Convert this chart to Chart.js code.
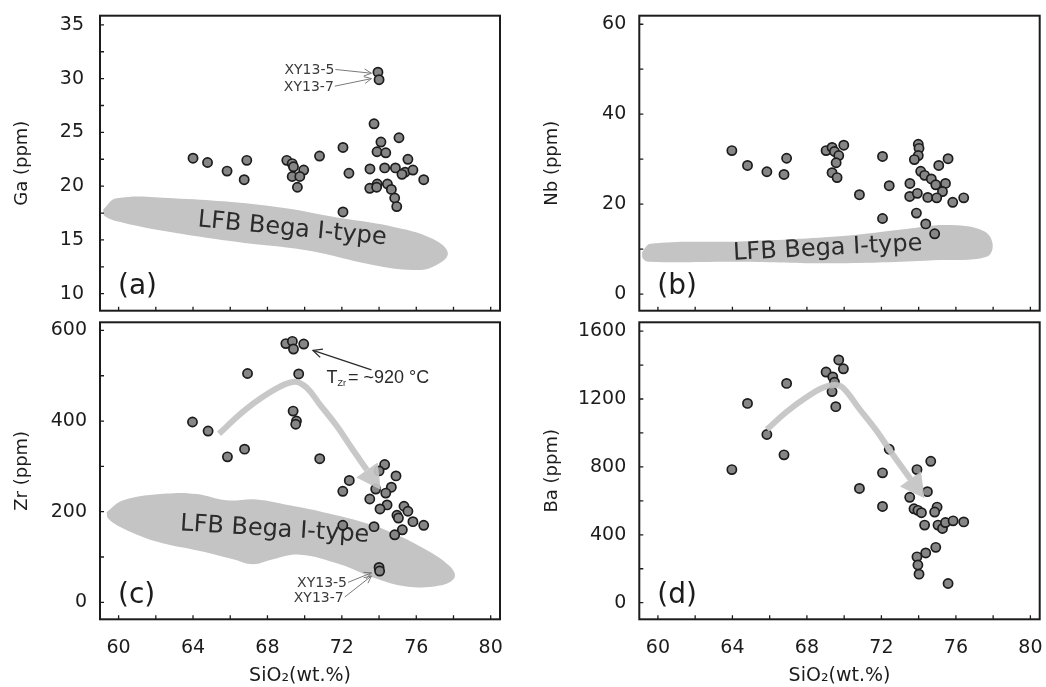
<!DOCTYPE html>
<html>
<head>
<meta charset="utf-8">
<script src="https://cdn.jsdelivr.net/npm/chart.js@4.4.1/dist/chart.umd.min.js"></script>
<style>
  body { margin: 0; background: #fff; width: 1046px; height: 687px; position: relative; overflow: hidden; }
  canvas { position: absolute; }
</style>
</head>
<body>
<canvas id="chartA" width="520" height="317" style="left:0px;top:0px"></canvas>
<canvas id="chartB" width="506" height="317" style="left:540px;top:0px"></canvas>
<canvas id="chartC" width="520" height="371" style="left:0px;top:316px"></canvas>
<canvas id="chartD" width="506" height="371" style="left:540px;top:316px"></canvas>
<script>
// ---- data ----
const xTicks = [60, 64, 68, 72, 76, 80];

// (a) Ga
const gaSiO2 = [64.0, 64.78, 65.83, 66.89, 66.75, 69.04, 69.33, 69.4, 69.95, 69.33, 69.74, 69.61, 70.8, 72.06, 72.38, 72.06, 73.73, 74.1, 73.89, 74.36, 75.07, 73.51, 74.3, 74.88, 75.55, 75.4, 75.23, 75.82, 76.4, 73.5, 73.9, 73.87, 74.45, 74.66, 74.84, 74.95, 73.94, 74.0];
const gaPpm  = [22.6, 22.2, 21.4, 22.4, 20.6, 22.4, 22.1, 21.8, 21.5, 20.9, 20.9, 19.9, 22.8, 23.6, 21.2, 17.6, 25.8, 24.1, 23.2, 23.1, 24.5, 21.6, 21.7, 21.7, 22.5, 21.3, 21.1, 21.5, 20.6, 19.8, 20.2, 19.9, 20.2, 19.7, 18.9, 18.1, 30.6, 29.9];
const gaTicks = [10, 15, 20, 25, 30, 35];
const gaFieldX = [59.17, 59.89, 62.93, 68.3, 71.89, 74.57, 76.9, 77.7, 76.9, 75.82, 73.67, 70.1, 66.51, 62.93, 60.25, 59.26];
const gaFieldY = [17.82, 18.87, 18.87, 18.12, 17.05, 16.3, 15.09, 13.73, 12.5, 12.2, 12.66, 14.03, 14.78, 15.69, 16.6, 17.2];

// (b) Nb
const nbSiO2 = [63.97, 64.81, 65.85, 66.91, 66.77, 69.03, 69.35, 69.48, 69.98, 69.71, 69.57, 69.35, 69.62, 70.82, 72.06, 72.42, 72.06, 73.98, 74.02, 73.98, 73.77, 75.08, 75.58, 74.11, 74.32, 74.68, 74.92, 75.44, 75.28, 73.53, 73.52, 73.93, 74.49, 74.97, 75.83, 76.42, 73.88, 74.38, 74.86];
const nbPpm  = [31.9, 28.6, 27.2, 30.2, 26.6, 31.9, 32.6, 31.7, 33.1, 30.8, 29.2, 27.0, 25.9, 22.1, 30.6, 24.1, 16.8, 33.3, 32.4, 30.8, 29.9, 28.6, 30.1, 27.3, 26.4, 25.6, 24.3, 24.6, 22.8, 24.6, 21.7, 22.4, 21.5, 21.4, 20.4, 21.4, 18.0, 15.6, 13.4];
const nbTicks = [0, 20, 40, 60];
const nbFieldX = [59.15, 59.61, 64.36, 69.75, 73.34, 75.49, 77.46, 77.97, 77.65, 75.13, 69.75, 64.36, 59.52, 59.19];
const nbFieldY = [9.37, 11.2, 11.7, 12.85, 14.47, 15.34, 14.1, 11.2, 8.28, 7.56, 6.84, 7.19, 7.19, 7.93];

// (c) Zr
const zrSiO2 = [63.97, 64.81, 65.85, 66.77, 66.93, 68.99, 69.34, 69.4, 69.95, 69.68, 69.38, 69.56, 69.52, 70.81, 72.4, 72.05, 72.05, 74.3, 74.0, 74.91, 74.66, 74.36, 73.82, 73.5, 74.43, 74.05, 75.34, 75.55, 74.96, 75.04, 75.82, 76.4, 73.73, 75.25, 74.84, 74.0, 74.03];
const zrPpm  = [398, 378, 321, 338, 505, 571, 576, 559, 570, 504, 422, 400, 393, 317, 269, 245, 170, 304, 290, 279, 254, 241, 250, 228, 215, 206, 212, 201, 192, 186, 178, 170, 167, 160, 149, 77, 69];
const zrTicks = [0, 200, 400, 600];
const zrFieldX = [59.36, 60.25, 62.58, 64.19, 65.8, 67.41, 69.2, 70.99, 72.78, 74.57, 76.36, 77.79, 78.06, 77.25, 75.47, 73.67, 71.89, 69.74, 68.3, 67.23, 66.15, 64.37, 62.04, 60.25, 59.44];
const zrFieldY = [199, 225, 240, 239, 225, 227, 214, 199, 181, 156, 120, 80, 55, 37, 35, 55, 84, 105, 95, 84, 95, 113, 134, 163, 185];
const zrTrendX = [65.4, 66.87, 68.49, 69.47, 70.1, 70.81, 71.71, 72.6, 73.35];
const zrTrendY = [372, 427, 472, 487, 474, 437, 390, 336, 292];

// (d) Ba
const baSiO2 = [63.97, 64.81, 65.85, 66.77, 66.91, 69.03, 69.39, 69.48, 69.35, 69.71, 69.96, 69.55, 70.82, 72.42, 72.06, 72.06, 73.91, 74.65, 73.52, 74.47, 73.75, 73.96, 74.15, 74.99, 74.86, 74.32, 75.04, 75.28, 75.44, 75.85, 76.42, 74.92, 74.38, 73.91, 73.96, 74.02, 75.58];
const baPpm  = [784, 1174, 991, 871, 1292, 1359, 1330, 1299, 1244, 1430, 1378, 1155, 673, 904, 765, 567, 784, 833, 621, 654, 553, 544, 530, 563, 534, 457, 457, 437, 472, 482, 476, 326, 293, 270, 222, 168, 113];
const baTicks = [0, 400, 800, 1200, 1600];
const baTrendX = [65.85, 66.88, 67.95, 68.85, 69.48, 69.93, 70.82, 71.72, 72.62, 73.56];
const baTrendY = [1020, 1122, 1209, 1267, 1282, 1267, 1141, 1016, 871, 729];

// ---- drawing ----
const INK = '#1c1c1c';
const FONT = 'DejaVu Sans';
const FIELD = '#c4c4c4';
const TREND = 'rgba(196,196,196,0.93)';

const zip = (xs, ys) => xs.map((x, i) => ({ x, y: ys[i] }));
const closed = (xs, ys) => { const p = zip(xs, ys); p.push(p[0]); return p; };

function openHead(ctx, x0, y0, x1, y1, len) {
  const a = Math.atan2(y1 - y0, x1 - x0);
  ctx.beginPath();
  ctx.moveTo(x1 - len * Math.cos(a - 0.45), y1 - len * Math.sin(a - 0.45));
  ctx.lineTo(x1, y1);
  ctx.lineTo(x1 - len * Math.cos(a + 0.45), y1 - len * Math.sin(a + 0.45));
  ctx.stroke();
}

const panelPlugin = {
  id: 'panel',
  afterDatasetDraw(chart, args, o) {
    const ds = chart.data.datasets[args.index];
    const ctx = chart.ctx, sx = chart.scales.x, sy = chart.scales.y;
    if (ds.role === 'field' && o.fieldText) {
      const t = o.fieldText;
      ctx.save();
      ctx.translate(sx.getPixelForValue(t.x), sy.getPixelForValue(t.y));
      ctx.rotate(t.angle * Math.PI / 180);
      ctx.font = '24px "' + FONT + '"';
      ctx.fillStyle = '#2b2b2b';
      ctx.textAlign = 'center';
      ctx.textBaseline = 'middle';
      ctx.fillText('LFB Bega I-type', 0, 0);
      ctx.restore();
    }
    if (ds.role === 'trend') {
      const pts = args.meta.data;
      const a = pts[pts.length - 2], b = pts[pts.length - 1];
      const ang = Math.atan2(b.y - a.y, b.x - a.x);
      const L = 24, W = 13;
      ctx.save();
      ctx.fillStyle = TREND;
      ctx.beginPath();
      ctx.moveTo(b.x + L * Math.cos(ang), b.y + L * Math.sin(ang));
      ctx.lineTo(b.x - W * Math.sin(ang), b.y + W * Math.cos(ang));
      ctx.lineTo(b.x + W * Math.sin(ang), b.y - W * Math.cos(ang));
      ctx.closePath();
      ctx.fill();
      ctx.restore();
    }
  },
  afterDraw(chart, args, o) {
    const ctx = chart.ctx, area = chart.chartArea, sx = chart.scales.x, sy = chart.scales.y;
    ctx.save();
    // inward tick marks
    ctx.strokeStyle = INK;
    ctx.lineWidth = 1.3;
    ctx.beginPath();
    for (let v = 60; v <= 80; v += 2) {
      const px = sx.getPixelForValue(v);
      ctx.moveTo(px, area.bottom);
      ctx.lineTo(px, area.bottom - 4);
    }
    const st = o.yMinor;
    for (let v = Math.ceil(sy.min / st) * st; v <= sy.max; v += st) {
      const py = sy.getPixelForValue(v);
      ctx.moveTo(area.left, py);
      ctx.lineTo(area.left + 4, py);
    }
    ctx.stroke();
    // frame
    ctx.lineWidth = 2;
    ctx.strokeRect(area.left, area.top, area.right - area.left, area.bottom - area.top);
    // panel letter
    ctx.fillStyle = INK;
    ctx.font = '28px "' + FONT + '"';
    ctx.textAlign = 'left';
    ctx.textBaseline = 'middle';
    ctx.fillText(o.letter, area.left + 18, area.bottom - 24);
    // sample call-outs
    (o.notes || []).forEach(n => {
      const x0 = sx.getPixelForValue(n.fx), y0 = sy.getPixelForValue(n.fy);
      const x1 = sx.getPixelForValue(n.tx), y1 = sy.getPixelForValue(n.ty);
      ctx.strokeStyle = '#7a7a7a';
      ctx.lineWidth = 1;
      ctx.beginPath();
      ctx.moveTo(x0, y0);
      ctx.lineTo(x1, y1);
      ctx.stroke();
      openHead(ctx, x0, y0, x1, y1, 8);
      ctx.fillStyle = '#3a3a3a';
      ctx.font = '14px "' + FONT + '"';
      ctx.textAlign = 'right';
      ctx.textBaseline = 'middle';
      ctx.fillText(n.text, x0 - 1, y0 + 1);
    });
    if (o.tzr) {
      const t = o.tzr;
      const x0 = sx.getPixelForValue(t.fx), y0 = sy.getPixelForValue(t.fy);
      const x1 = sx.getPixelForValue(t.tx), y1 = sy.getPixelForValue(t.ty);
      ctx.strokeStyle = '#2a2a2a';
      ctx.lineWidth = 1.3;
      ctx.beginPath();
      ctx.moveTo(x0, y0);
      ctx.lineTo(x1, y1);
      ctx.stroke();
      openHead(ctx, x0, y0, x1, y1, 10);
      let lx = sx.getPixelForValue(t.lx);
      const ly = sy.getPixelForValue(t.ly);
      ctx.fillStyle = '#2a2a2a';
      ctx.textAlign = 'left';
      ctx.textBaseline = 'middle';
      ctx.font = '18px "Liberation Sans"';
      ctx.fillText('T', lx, ly);
      lx += ctx.measureText('T').width;
      ctx.font = '9px "Liberation Sans"';
      ctx.fillText('Zr', lx, ly + 6);
      lx += ctx.measureText('Zr').width + 2;
      ctx.font = '18px "Liberation Sans"';
      ctx.fillText('= ~920 °C', lx, ly);
    }
    ctx.restore();
  }
};

function buildPanel(id, p) {
  const datasets = [];
  if (p.fieldX) {
    datasets.push({ role: 'field', data: closed(p.fieldX, p.fieldY), showLine: true, fill: 'shape',
      backgroundColor: FIELD, borderColor: FIELD, borderWidth: 0, pointRadius: 0, tension: 0.4, order: 3 });
  }
  datasets.push({ role: 'samples', data: zip(p.sx, p.sy), showLine: false, pointRadius: 4.6,
    pointBackgroundColor: '#868686', pointBorderColor: INK, pointBorderWidth: 1.7, order: 2 });
  if (p.trendX) {
    datasets.push({ role: 'trend', data: zip(p.trendX, p.trendY), showLine: true, fill: false,
      borderColor: TREND, borderWidth: 6, pointRadius: 0, tension: 0.4, order: 1 });
  }
  new Chart(document.getElementById(id), {
    type: 'scatter',
    data: { datasets },
    plugins: [panelPlugin],
    options: {
      responsive: false,
      animation: false,
      devicePixelRatio: 1,
      events: [],
      layout: { padding: p.padding },
      plugins: {
        legend: { display: false },
        tooltip: { enabled: false },
        panel: { letter: p.letter, yMinor: p.yMinor, fieldText: p.fieldText, notes: p.notes, tzr: p.tzr }
      },
      scales: {
        x: {
          type: 'linear', min: 59, max: 80.5, display: p.bottom,
          afterBuildTicks: s => { s.ticks = xTicks.map(v => ({ value: v })); },
          afterFit: s => { s.height = p.bottom ? 67.7 : 0; s.paddingLeft = 0; s.paddingRight = 0; },
          grid: { display: false, drawTicks: false },
          border: { display: false },
          ticks: { color: INK, padding: 17, maxRotation: 0, autoSkip: false, font: { family: FONT, size: 19 } },
          title: { display: true, text: 'SiO₂(wt.%)', color: INK, font: { family: FONT, size: 19 }, padding: { top: 0, bottom: 0 } }
        },
        y: {
          type: 'linear', min: p.yMin, max: p.yMax,
          afterBuildTicks: s => { s.ticks = p.yTicks.map(v => ({ value: v })); },
          afterFit: s => { s.width = p.yWidth; s.paddingTop = 0; s.paddingBottom = 0; },
          grid: { display: false, drawTicks: false },
          border: { display: false },
          ticks: { color: INK, padding: p.yPad, autoSkip: false, font: { family: FONT, size: 19 }, callback: v => String(v) },
          title: { display: true, text: p.yTitle, color: INK, font: { family: FONT, size: 18 }, padding: { top: p.titlePad, bottom: 0 } }
        }
      }
    }
  });
}

buildPanel('chartA', {
  sx: gaSiO2, sy: gaPpm, yTicks: gaTicks, yMin: 8.42, yMax: 35.85, yMinor: 2.5,
  fieldX: gaFieldX, fieldY: gaFieldY, fieldText: { x: 69.33, y: 16.0, angle: 5.5 },
  letter: '(a)', yTitle: 'Ga (ppm)', bottom: false, yWidth: 100, yPad: 16, titlePad: 11.2,
  padding: { left: 0, right: 20, top: 15.7, bottom: 0 },
  notes: [
    { text: 'XY13-5', fx: 71.65, fy: 30.85, tx: 73.59, ty: 30.5 },
    { text: 'XY13-7', fx: 71.62, fy: 29.3, tx: 73.59, ty: 30.0 }
  ]
});

buildPanel('chartB', {
  sx: nbSiO2, sy: nbPpm, yTicks: nbTicks, yMin: -3.7, yMax: 61.9, yMinor: 10,
  fieldX: nbFieldX, fieldY: nbFieldY, fieldText: { x: 69.12, y: 10.1, angle: -3 },
  letter: '(b)', yTitle: 'Nb (ppm)', bottom: false, yWidth: 99.3, yPad: 13, titlePad: 1.2,
  padding: { left: 0, right: 6, top: 15.7, bottom: 0 }
});

buildPanel('chartC', {
  sx: zrSiO2, sy: zrPpm, yTicks: zrTicks, yMin: -37.5, yMax: 618, yMinor: 100,
  fieldX: zrFieldX, fieldY: zrFieldY, fieldText: { x: 68.39, y: 160, angle: 3.5 },
  trendX: zrTrendX, trendY: zrTrendY,
  letter: '(c)', yTitle: 'Zr (ppm)', bottom: true, yWidth: 100, yPad: 13, titlePad: 11.2,
  padding: { left: 0, right: 20, top: 0.7, bottom: 0 },
  notes: [
    { text: 'XY13-5', fx: 72.33, fy: 44, tx: 73.59, ty: 65 },
    { text: 'XY13-7', fx: 72.15, fy: 11.5, tx: 73.59, ty: 58 }
  ],
  tzr: { fx: 73.59, fy: 513, tx: 70.45, ty: 556, lx: 71.17, ly: 496 }
});

buildPanel('chartD', {
  sx: baSiO2, sy: baPpm, yTicks: baTicks, yMin: -98, yMax: 1652, yMinor: 200,
  trendX: baTrendX, trendY: baTrendY,
  letter: '(d)', yTitle: 'Ba (ppm)', bottom: true, yWidth: 99.3, yPad: 13, titlePad: 1.2,
  padding: { left: 0, right: 6, top: 0.7, bottom: 0 }
});
</script>
</body>
</html>
